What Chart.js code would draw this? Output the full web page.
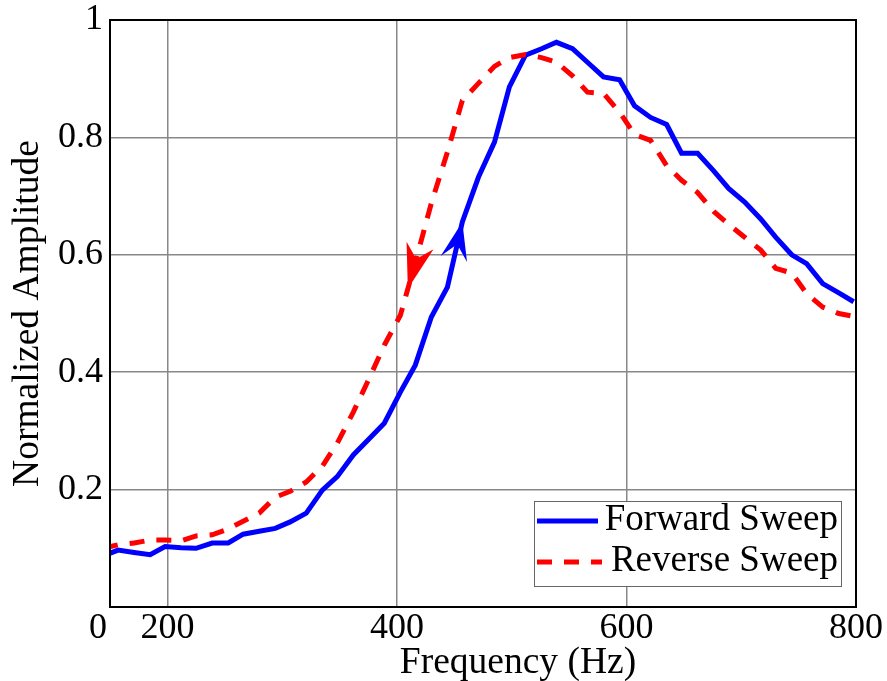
<!DOCTYPE html>
<html><head><meta charset="utf-8">
<script src="https://cdn.jsdelivr.net/npm/chart.js@4.4.1/dist/chart.umd.min.js"></script>
<style>html,body{margin:0;padding:0;background:#fff;}#wrap{width:887px;height:681px;}</style>
</head><body><div id="wrap"><canvas id="c" width="887" height="681"></canvas></div>
<script>
const frequencies = [144,157,171,185,198,212,225,239,253,266,280,294,307,321,335,348,362,375,389,403,416,430,444,457,471,485,498,512,526,539,553,566,580,594,607,621,635,648,662,676,689,703,717,730,744,757,771,785,798];
const forwardSweep = [0.087,0.097,0.093,0.089,0.103,0.101,0.100,0.109,0.109,0.124,0.129,0.134,0.145,0.160,0.199,0.222,0.259,0.285,0.313,0.366,0.412,0.494,0.545,0.656,0.732,0.792,0.886,0.940,0.951,0.962,0.951,0.928,0.903,0.898,0.854,0.834,0.822,0.773,0.773,0.743,0.713,0.690,0.661,0.630,0.600,0.585,0.551,0.535,0.520];
const reverseSweep = [0.100,0.106,0.109,0.114,0.114,0.113,0.121,0.123,0.133,0.146,0.160,0.187,0.197,0.213,0.240,0.279,0.332,0.386,0.446,0.497,0.587,0.688,0.775,0.863,0.892,0.921,0.936,0.941,0.936,0.928,0.905,0.877,0.875,0.843,0.805,0.795,0.752,0.727,0.706,0.674,0.652,0.630,0.608,0.577,0.569,0.534,0.511,0.500,0.495];
const xTickValues = [200,400,600,800];
const yTickValues = [0.2,0.4,0.6,0.8,1];
const seriesLabels = ['Forward Sweep','Reverse Sweep'];
const xAxisTitle = 'Frequency (Hz)';
const yAxisTitle = 'Normalized Amplitude';
const originLabel = '0';

const FONT = "'Liberation Serif', 'Times New Roman', serif";

function toPoints(xs, ys){ return xs.map((x,i)=>({x:x, y:ys[i]})); }

function drawStealth(ctx, tip, from, L, W, N, color){
  let dx = tip.x - from.x, dy = tip.y - from.y;
  const len = Math.hypot(dx, dy); dx/=len; dy/=len;
  const nx = -dy, ny = dx;
  ctx.save();
  ctx.fillStyle = color;
  ctx.beginPath();
  ctx.moveTo(tip.x, tip.y);
  ctx.lineTo(tip.x - dx*L + nx*W, tip.y - dy*L + ny*W);
  ctx.lineTo(tip.x - dx*N, tip.y - dy*N);
  ctx.lineTo(tip.x - dx*L - nx*W, tip.y - dy*L - ny*W);
  ctx.closePath();
  ctx.fill();
  ctx.restore();
}

const decor = {
  id:'decor',
  afterDatasetsDraw(chart){
    const ctx = chart.ctx;
    const fw = chart.getDatasetMeta(0).data;
    const rv = chart.getDatasetMeta(1).data;
    drawStealth(ctx, {x:fw[23].x, y:fw[23].y}, {x:fw[22].x, y:fw[22].y}, 38, 13.5, 23, '#0000ff');
    const tip = {x:(rv[20].x+rv[19].x)/2, y:(rv[20].y+rv[19].y)/2};
    drawStealth(ctx, tip, {x:rv[20].x, y:rv[20].y}, 45, 14, 31, '#ff0000');
  },
  afterDraw(chart){
    const ctx = chart.ctx, a = chart.chartArea;
    ctx.save();
    ctx.strokeStyle = '#000'; ctx.lineWidth = 2;
    ctx.strokeRect(a.left, a.top, a.right - a.left, a.bottom - a.top);
    ctx.fillStyle = '#000';
    ctx.textAlign = 'center'; ctx.textBaseline = 'alphabetic';
    ctx.font = '36px ' + FONT;
    ctx.fillText(originLabel, a.left - 12, a.bottom + 31);
    ctx.font = '37.5px ' + FONT;
    ctx.fillText(xAxisTitle, (a.left + a.right)/2 + 35, a.bottom + 66);
    // legend
    const bx = a.right - 322, by = a.bottom - 106, bw = 307, bh = 85;
    ctx.fillStyle = '#fff';
    ctx.fillRect(bx, by, bw, bh);
    ctx.strokeStyle = '#666'; ctx.lineWidth = 1;
    ctx.strokeRect(bx + 0.5, by + 0.5, bw, bh);
    ctx.font = '37px ' + FONT;
    const ds = chart.data.datasets;
    const rows = [{y: by + 20, x2: bx + 64}, {y: by + 61, x2: bx + 68}];
    ds.forEach((d, i) => {
      ctx.save();
      ctx.strokeStyle = d.borderColor; ctx.lineWidth = d.borderWidth;
      ctx.lineCap = 'butt';
      ctx.setLineDash(d.borderDash || []);
      ctx.beginPath();
      ctx.moveTo(bx + 3, rows[i].y); ctx.lineTo(rows[i].x2, rows[i].y);
      ctx.stroke();
      ctx.restore();
      ctx.fillStyle = '#000';
      ctx.textAlign = 'right'; ctx.textBaseline = 'alphabetic';
      ctx.fillText(d.label, bx + bw - 3, rows[i].y + 9);
    });
    ctx.restore();
  }
};

new Chart(document.getElementById('c'), {
  type:'line',
  data:{
    datasets:[
      {label:seriesLabels[0], data:toPoints(frequencies, forwardSweep), borderColor:'#0000ff', backgroundColor:'#0000ff', borderWidth:5, pointRadius:0, tension:0, fill:false, order:1, clip:0},
      {label:seriesLabels[1], data:toPoints(frequencies, reverseSweep), borderColor:'#ff0000', backgroundColor:'#ff0000', borderWidth:5, borderDash:[15,12], borderCapStyle:'butt', pointRadius:0, tension:0, fill:false, order:0, clip:0}
    ]
  },
  options:{
    responsive:false, animation:false, devicePixelRatio:1,
    layout:{padding:{left:0, right:31, top:20, bottom:0}},
    plugins:{legend:{display:false}, tooltip:{enabled:false}},
    scales:{
      x:{
        type:'linear', min:150, max:800,
        afterBuildTicks:s=>{ s.ticks = xTickValues.map(v=>({value:v})); },
        afterFit:s=>{ s.height = 74; },
        grid:{color:'#888', lineWidth:1.5, drawTicks:false},
        border:{display:true, color:'#000', width:2},
        ticks:{font:{family:FONT, size:36, lineHeight:1}, color:'#000', padding:4, maxRotation:0, autoSkip:false, callback:v=>String(v)},
        title:{display:false, text:xAxisTitle}
      },
      y:{
        type:'linear', min:0, max:1,
        afterBuildTicks:s=>{ s.ticks = yTickValues.map(v=>({value:v})); },
        afterFit:s=>{ s.width = 110; },
        grid:{color:'#888', lineWidth:1.5, drawTicks:false},
        border:{display:true, color:'#000', width:2},
        ticks:{font:{family:FONT, size:36, lineHeight:0.3}, color:'#000', padding:7, autoSkip:false, callback:v=>String(v)},
        title:{display:true, text:yAxisTitle, color:'#000', font:{family:FONT, size:37.5, lineHeight:1.2}, padding:{top:6, bottom:0}}
      }
    }
  },
  plugins:[decor]
});
</script>
</body></html>
